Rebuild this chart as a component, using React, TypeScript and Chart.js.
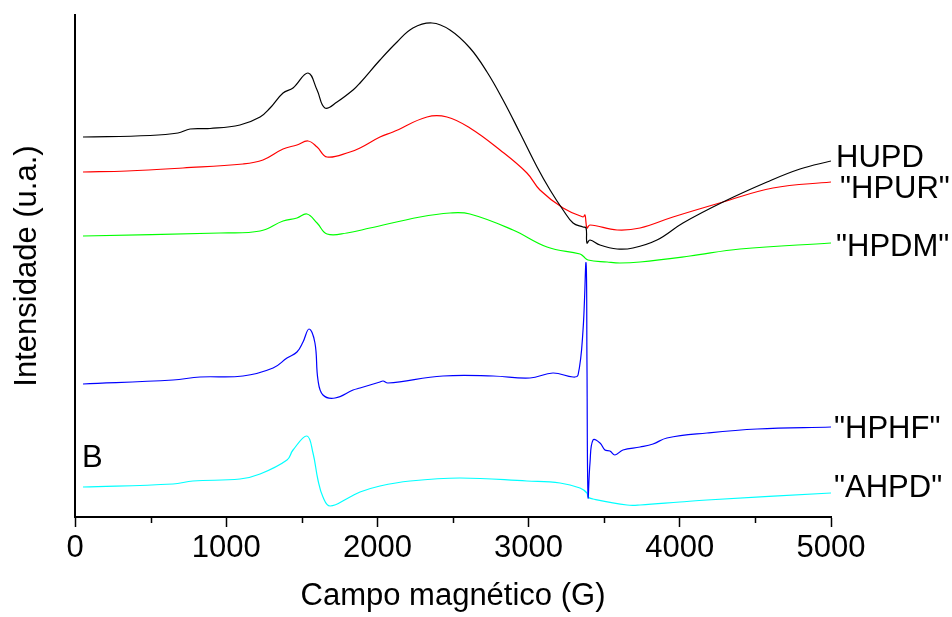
import React, { useEffect, useRef } from "react";
import { Chart, registerables } from "chart.js";

Chart.register(...registerables);

const FONT = '"Liberation Sans", Arial, Helvetica, sans-serif';

const X_TICKS = [0, 1000, 2000, 3000, 4000, 5000];
const MINOR_TICKS = [500, 1500, 2500, 3500, 4500];
const X_TITLE = "Campo magnético (G)";
const Y_TITLE = "Intensidade (u.a.)";
const PANEL_LABEL = "B";

const SERIES_NAMES = ["HUPD", '"HPUR"', '"HPDM"', '"HPHF"', '"AHPD"'];
const SERIES_COLORS = ["#000000", "#ff0000", "#00ff00", "#0000ff", "#00ffff"];

// HUPD (black)
const HUPD_G = [53, 496, 681, 761, 893, 1091, 1224, 1290, 1376, 1442, 1541, 1601, 1653, 1733, 1839, 1885, 2017, 2130, 2235, 2361, 2480, 2612, 2725, 2831, 2943, 3056, 3142, 3228, 3294, 3360, 3380, 3386, 3406, 3472, 3585, 3690, 3849, 4021, 4286, 4577, 4795, 5000];
const HUPD_V = [380, 381.5, 384, 388, 388.5, 392, 400, 409, 424, 429, 444, 427, 409, 415, 427, 434, 457, 475, 489, 494, 487, 469, 445, 417, 384, 350, 327, 307, 294, 290, 289, 274, 277, 272, 268, 269, 277, 294, 315, 335, 348, 356];

// HPUR (red)
const HPUR_G = [53, 344, 714, 1111, 1243, 1376, 1468, 1541, 1601, 1667, 1819, 1885, 2017, 2103, 2328, 2460, 2612, 2811, 2989, 3075, 3228, 3360, 3373, 3386, 3406, 3585, 3737, 3955, 4286, 4616, 5000];
const HPUR_V = [345, 346, 349, 353, 357, 368, 372, 376, 370, 360, 365, 369, 380, 385, 400, 400, 389, 367, 344, 327, 309, 300, 302, 289, 292, 287, 289, 300, 315, 329, 335];

// HPDM (green)
const HPDM_G = [53, 959, 1224, 1376, 1468, 1534, 1601, 1667, 1799, 1951, 2282, 2480, 2612, 2897, 3122, 3340, 3360, 3393, 3519, 3604, 3737, 4067, 4398, 5000];
const HPDM_V = [281, 284, 286, 296, 299, 303, 294, 283, 284, 289, 300, 304, 303, 287, 270, 263, 261, 257, 255, 254, 255, 261, 268, 274];

// HPHF (blue)
const HPHF_G = [53, 648, 827, 1111, 1310, 1402, 1468, 1508, 1548, 1587, 1607, 1640, 1720, 1839, 1885, 2017, 2037, 2070, 2434, 2765, 3009, 3161, 3294, 3327, 3360, 3380, 3386, 3393, 3406, 3426, 3472, 3505, 3538, 3571, 3624, 3737, 3823, 3915, 4180, 4511, 5000];
const HPHF_V = [133, 137, 140, 141, 149, 159, 165, 175, 188, 174, 137, 122, 119, 127, 129, 135, 136, 134, 141, 141, 139, 144, 140, 142, 187, 254, 154, 20, 54, 77, 74, 67, 66, 62, 67, 70, 73, 79, 84, 88, 90];

// AHPD (cyan)
const AHPD_G = [53, 648, 780, 1091, 1224, 1402, 1442, 1534, 1574, 1607, 1640, 1687, 1819, 1885, 2017, 2216, 2546, 2989, 3208, 3340, 3386, 3393, 3426, 3651, 3737, 4001, 4180, 5000];
const AHPD_V = [30, 33, 36, 38, 43, 57, 67, 81, 64, 37, 20, 11, 20, 25, 31, 36, 39, 36, 34, 29, 24, 20, 18, 12, 12, 15, 17, 24];

const SERIES_G = [HUPD_G, HPUR_G, HPDM_G, HPHF_G, AHPD_G];
const SERIES_V = [HUPD_V, HPUR_V, HPDM_V, HPHF_V, AHPD_V];

// label placement offsets (pixels, relative to each line's end)
const LABEL_DX = [5, 9, 5, 3, 3];
const LABEL_DY = [6, 16, 13, 11, 4];

const Y_MIN = 0;
const Y_MAX = 502;

const textPlugin = {
  id: "textPlugin",
  afterDraw(chart: any) {
    const ctx = chart.ctx;
    const area = chart.chartArea;
    const xs = chart.scales.x;
    ctx.save();
    // minor ticks
    ctx.strokeStyle = "#000";
    ctx.lineWidth = 1.5;
    MINOR_TICKS.forEach((v) => {
      const px = Math.round(xs.getPixelForValue(v)) + 0.5;
      ctx.beginPath();
      ctx.moveTo(px, area.bottom);
      ctx.lineTo(px, area.bottom + 6);
      ctx.stroke();
    });
    ctx.fillStyle = "#000";
    ctx.font = `31px ${FONT}`;
    ctx.textBaseline = "alphabetic";
    // series labels
    ctx.textAlign = "left";
    chart.data.datasets.forEach((ds: any, i: number) => {
      const meta = chart.getDatasetMeta(i);
      const last = meta.data[meta.data.length - 1];
      ctx.fillText(SERIES_NAMES[i], last.x + LABEL_DX[i], last.y + LABEL_DY[i]);
    });
    // panel label
    ctx.fillText(PANEL_LABEL, area.left + 7, area.bottom - 50);
    // x title
    ctx.textAlign = "center";
    ctx.fillText(X_TITLE, (area.left + area.right) / 2, area.bottom + 88);
    // y title
    ctx.translate(area.left - 39, (area.top + area.bottom) / 2);
    ctx.rotate(-Math.PI / 2);
    ctx.fillText(Y_TITLE, 0, 0);
    ctx.restore();
  },
};

function EprChart() {
  const ref = useRef<HTMLCanvasElement | null>(null);
  useEffect(() => {
    document.body.style.margin = "0";
    const canvas = ref.current;
    if (!canvas) return;
    const datasets = SERIES_NAMES.map((name, i) => ({
      label: name,
      data: SERIES_G[i].map((g, j) => ({ x: g, y: SERIES_V[i][j] })),
      borderColor: SERIES_COLORS[i],
      backgroundColor: SERIES_COLORS[i],
      borderWidth: 1.2,
      pointRadius: 0,
      fill: false,
      tension: 0.4,
    }));
    const chart = new Chart(canvas, {
      type: "line",
      data: { datasets },
      options: {
        animation: false,
        responsive: false,
        maintainAspectRatio: false,
        devicePixelRatio: 1,
        layout: { padding: { top: 15, right: 121, left: 0, bottom: 0 } },
        plugins: {
          legend: { display: false },
          tooltip: { enabled: false },
          title: { display: false },
        },
        scales: {
          x: {
            type: "linear",
            min: 0,
            max: 5000,
            afterBuildTicks: (s: any) => {
              s.ticks = X_TICKS.map((v) => ({ value: v }));
            },
            afterFit: (s: any) => {
              s.height = 100;
            },
            ticks: {
              color: "#000",
              font: { family: FONT, size: 31 },
              padding: 3,
              maxRotation: 0,
              autoSkip: false,
              callback: (v: any) => String(v),
            },
            grid: {
              display: true,
              drawOnChartArea: false,
              drawTicks: true,
              tickLength: 10,
              color: "#000",
              tickWidth: 1.5,
            },
            border: { display: true, color: "#000", width: 2 },
          },
          y: {
            type: "linear",
            min: Y_MIN,
            max: Y_MAX,
            afterFit: (s: any) => {
              s.width = 75;
            },
            ticks: { display: false },
            grid: { display: false, drawTicks: false },
            border: { display: true, color: "#000", width: 2 },
          },
        },
      },
      plugins: [textPlugin],
    });
    return () => chart.destroy();
  }, []);
  return <canvas ref={ref} width={952} height={617} style={{ display: "block", width: 952, height: 617 }} />;
}

export default function App() {
  return (
    <div style={{ width: 952, height: 617, background: "#fff" }}>
      <EprChart />
    </div>
  );
}
